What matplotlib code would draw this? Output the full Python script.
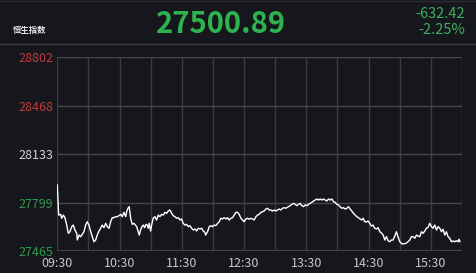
import numpy as np
import matplotlib
matplotlib.use('Agg')
import matplotlib.pyplot as plt
from matplotlib.ticker import FixedLocator

plt.rcParams['font.family'] = ['Noto Sans CJK SC', 'DejaVu Sans']

# 行情数据 (分钟, 指数点位)
index_name = '恒生指数'
last_price = '27500.89'
change = '-632.42'
change_pct = '-2.25%'
prev_close = 28133

minutes = [0, 0.7, 1.3, 3.3, 4.2, 5.8, 7.4, 9.1, 10.6, 12.2, 13.9, 15.4, 17.0, 18.7, 19.3,
           20.9, 22.5, 24.1, 25.7, 27.3, 28.9, 30.5, 32.2, 33.7, 35.3, 37.0, 38.5, 40.2, 41.8,
           43.3, 45.0, 46.6, 48.2, 49.8, 51.4, 53.0, 54.6, 56.2, 57.8, 59.4, 61.1, 62.6, 64.2,
           65.9, 66.8, 68.1, 69.3, 70.7, 72.2, 73.9, 76.5, 78.0, 79.0, 80.3, 81.6, 82.8, 84.2,
           85.4, 86.7, 87.6, 88.6, 89.9, 90.9, 92.4, 94.1, 95.7, 97.3, 98.9, 100.5, 102.1, 103.7,
           105.4, 106.9, 108.5, 110.2, 111.7, 113.3, 115.0, 116.5, 118.2, 119.8, 121.3, 123.0,
           124.6, 126.2, 127.8, 129.4, 131.0, 132.6, 134.2, 135.8, 137.4, 139.1, 140.6, 142.2,
           142.9, 144.8, 146.4, 148.0, 149.6, 151.2, 152.8, 154.5, 156.0, 157.6, 159.3, 160.8,
           162.5, 164.1, 165.6, 167.3, 168.9, 170.5, 172.1, 173.7, 175.3, 176.9, 178.5, 180.1,
           181.7, 183.4, 184.9, 186.5, 188.2, 189.7, 191.4, 193.0, 194.5, 196.2, 197.8, 199.3,
           201.0, 202.6, 204.2, 205.8, 207.4, 209.0, 210.6, 212.3, 213.8, 215.4, 217.1, 218.6,
           220.2, 221.2, 222.8, 224.4, 226.0, 227.7, 229.2, 230.9, 232.5, 234.0, 235.6, 237.3,
           238.8, 240.5, 242.1, 243.6, 245.3, 246.9, 248.5, 250.1, 251.7, 253.3, 254.9, 256.5,
           258.1, 259.7, 261.4, 262.9, 264.6, 266.2, 267.7, 269.4, 271.0, 272.5, 274.2, 275.8,
           277.3, 279.0, 280.6, 282.2, 283.8, 285.4, 287.0, 288.6, 290.2, 291.8, 293.4, 294.7,
           296.3, 297.9, 299.5, 301.1, 302.7, 304.3, 305.9, 307.6, 309.1, 310.8, 312.4, 314.0,
           315.6, 317.2, 318.8, 320.4, 322.0, 323.6, 325.2, 326.8, 328.4, 330.0, 332.4, 335.8,
           338.0, 339.7, 341.3, 342.9, 344.5, 346.1, 347.7, 349.3, 350.9, 352.5, 354.1, 355.7,
           357.3, 358.9, 360.5, 362.1, 363.7, 365.4, 367.0, 368.6, 370.2, 371.7, 373.4, 375.0,
           376.5, 378.2, 379.8, 381.4, 383.0, 384.6, 386.2, 387.1, 388.0]

prices = [27921, 27817, 27713, 27718, 27691, 27713, 27695, 27644, 27587, 27598, 27633, 27644,
          27610, 27587, 27541, 27575, 27564, 27580, 27598, 27644, 27667, 27644, 27598, 27564,
          27529, 27541, 27575, 27603, 27622, 27644, 27626, 27656, 27633, 27622, 27667, 27695,
          27695, 27702, 27702, 27709, 27718, 27702, 27732, 27702, 27736, 27760, 27771, 27691,
          27649, 27656, 27633, 27598, 27575, 27610, 27633, 27644, 27626, 27649, 27644, 27622,
          27656, 27603, 27644, 27691, 27702, 27679, 27713, 27702, 27718, 27713, 27732, 27725,
          27741, 27748, 27725, 27709, 27702, 27691, 27695, 27679, 27686, 27656, 27644, 27649,
          27633, 27640, 27622, 27610, 27617, 27603, 27622, 27617, 27622, 27603, 27594, 27575,
          27598, 27633, 27640, 27633, 27644, 27640, 27656, 27667, 27691, 27686, 27695, 27686,
          27695, 27679, 27691, 27695, 27713, 27732, 27732, 27718, 27691, 27679, 27667, 27686,
          27691, 27684, 27691, 27686, 27679, 27702, 27713, 27718, 27732, 27736, 27741, 27755,
          27760, 27748, 27748, 27741, 27748, 27741, 27748, 27755, 27748, 27760, 27764, 27760,
          27764, 27771, 27778, 27787, 27794, 27787, 27778, 27787, 27794, 27778, 27771, 27783,
          27778, 27787, 27794, 27801, 27810, 27817, 27824, 27817, 27824, 27817, 27824, 27817,
          27810, 27824, 27817, 27824, 27805, 27801, 27787, 27783, 27771, 27760, 27764, 27755,
          27760, 27771, 27755, 27741, 27725, 27713, 27702, 27695, 27686, 27679, 27691, 27667,
          27665, 27672, 27656, 27637, 27644, 27622, 27617, 27626, 27598, 27589, 27575, 27541,
          27564, 27536, 27529, 27541, 27541, 27568, 27598, 27561, 27529, 27513, 27517, 27529,
          27541, 27564, 27564, 27553, 27575, 27568, 27564, 27598, 27587, 27603, 27622, 27629,
          27656, 27633, 27622, 27644, 27610, 27633, 27622, 27598, 27615, 27575, 27598, 27564,
          27553, 27529, 27534, 27529, 27536, 27529, 27546, 27530]

y_ticks = [27465, 27799, 28133, 28468, 28802]
y_tick_colors = ['#2f9a4c', '#2f9a4c', '#d4d4d4', '#c23b3b', '#c23b3b']
x_labels = ['09:30', '10:30', '11:30', '12:30', '13:30', '14:30', '15:30']

bg = '#15171c'
grid_c = '#3a3d43'

fig = plt.figure(figsize=(4.77, 2.73), dpi=100, facecolor=bg)
ax = fig.add_axes([0.1201, 0.0806, 0.8485, 0.7094], facecolor=bg)

ax.plot(minutes, prices, color='white', lw=1.0, zorder=3)

ax.set_xlim(0, 390)
ax.set_ylim(y_ticks[0], y_ticks[-1])

# 网格线
for t in range(0, 391, 30):
    ax.axvline(t, color=grid_c, lw=1.0, zorder=1)
for v in y_ticks[1:]:
    ax.axhline(v, color='#44474c', lw=1.0, zorder=1)
ax.axhline(y_ticks[0], color='#3f4247', lw=2.2, zorder=2)

for s in ax.spines.values():
    s.set_visible(False)

ax.set_yticks(y_ticks)
ax.set_yticklabels([str(v) for v in y_ticks], fontsize=9)
for lbl, c in zip(ax.get_yticklabels(), y_tick_colors):
    lbl.set_color(c)
ax.xaxis.set_major_locator(FixedLocator(list(range(0, 361, 60))))
ax.set_xticklabels(x_labels, fontsize=9, color='#c8c8c8')
ax.tick_params(axis='both', length=0)
ax.tick_params(axis='y', pad=3)
ax.tick_params(axis='x', pad=4)

# 顶部信息栏
fig.add_artist(plt.Line2D([0, 1], [1 - 44.3 / 273] * 2, color='#3a3d42', lw=1.0))
fig.add_artist(plt.Line2D([0, 1], [1 - 1.0 / 273] * 2, color='#2a2d32', lw=1.0))
fig.text(13 / 477, 1 - 31 / 273, index_name, color='#e6e6e6', fontsize=6,
         fontweight='bold', va='center', ha='left')
fig.text(156 / 477, 1 - 24 / 273, last_price, color='#2db44e', fontsize=21,
         fontweight='bold', va='center', ha='left')
fig.text(465 / 477, 1 - 14.5 / 273, change, color='#3fae5e', fontsize=10.5,
         va='center', ha='right')
fig.text(465 / 477, 1 - 29.5 / 273, change_pct, color='#3fae5e', fontsize=10.5,
         va='center', ha='right')

plt.savefig('out.png', dpi=100, facecolor=bg)
